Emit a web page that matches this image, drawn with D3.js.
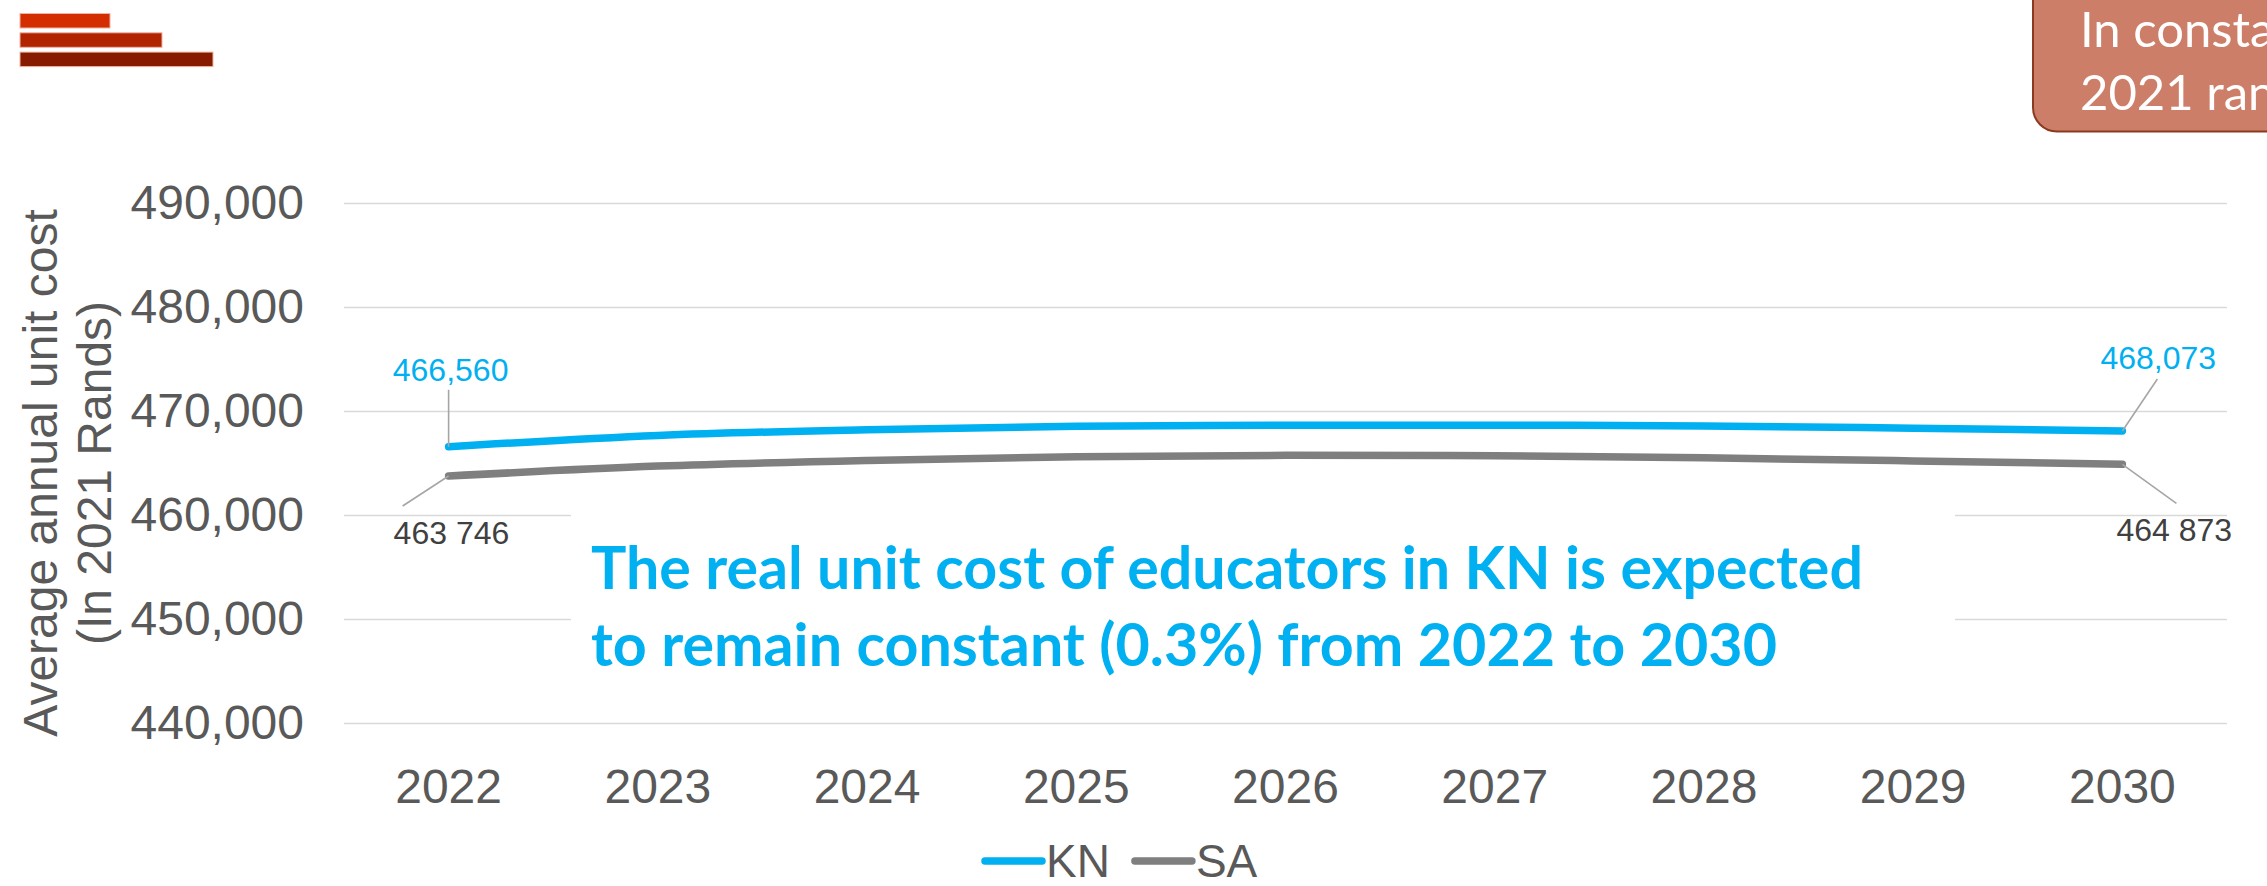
<!DOCTYPE html>
<html>
<head>
<meta charset="utf-8">
<script src="https://cdn.jsdelivr.net/npm/d3@7"></script>
<style>
  html, body { margin: 0; padding: 0; background: #ffffff; }
  svg { display: block; }
</style>
</head>
<body>
<div id="chart"></div>
<script>
// ---- data ----
const years = ["2022", "2023", "2024", "2025", "2026", "2027", "2028", "2029", "2030"];
const knValues = [466560, 467650, 468200, 468530, 468630, 468640, 468560, 468350, 468073];
const saValues = [463746, 464700, 465250, 465600, 465740, 465700, 465500, 465200, 464873];
const seriesNames = ["KN", "SA"];
const yTicks = [440000, 450000, 460000, 470000, 480000, 490000];
const yTitleLines = ["Average annual unit cost", "(In 2021 Rands)"];
const noteLines = [
  "The real unit cost of educators in KN is expected",
  "to remain constant (0.3%) from 2022 to 2030"
];
const badgeLines = ["In constant", "2021 rands"];

// ---- layout ----
const W = 2267, H = 886;
const plot = { left: 344, right: 2227, top: 203, bottom: 723 };
const colors = { KN: "#00B0F0", SA: "#7F7F7F" };
const axisText = "#595959";

const svg = d3.select("#chart").append("svg")
  .attr("width", W).attr("height", H)
  .style("font-family", "'Liberation Sans', Arial, sans-serif");

const x = d3.scaleBand().domain(years).range([plot.left, plot.right]).padding(0);
const cx = d => x(d) + x.bandwidth() / 2;
const y = d3.scaleLinear().domain([440000, 490000]).range([plot.bottom, plot.top]);

// ---- decorative bars, top left ----
const logo = svg.append("g");
[[90, "#D42E00"], [142, "#B02400"], [193, "#861B00"]].forEach(([w, c], i) => {
  logo.append("rect")
    .attr("x", 20).attr("y", 13.5 + i * 19.3)
    .attr("width", w).attr("height", 14.5)
    .attr("fill", c).attr("stroke", "#EFB3A3").attr("stroke-width", 1);
});

// ---- badge, top right (runs past the page edge) ----
const badge = svg.append("g");
badge.append("rect")
  .attr("x", 2033).attr("y", -40).attr("width", 320).attr("height", 171.5)
  .attr("rx", 24).attr("ry", 24)
  .attr("fill", "#CC7E68").attr("stroke", "#8B3A1F").attr("stroke-width", 2);
badge.selectAll("text").data(badgeLines).join("text")
  .attr("x", 2080).attr("y", (d, i) => 47 + i * 63)
  .attr("fill", "#ffffff")
  .style("font-family", "Lato, 'Open Sans', sans-serif")
  .style("font-size", "49px")
  .text(d => d);

// ---- gridlines + y axis ----
const yAxis = d3.axisLeft(y).tickValues(yTicks)
  .tickSize(-(plot.right - plot.left))
  .tickPadding(40)
  .tickFormat(d3.format(","));
const gy = svg.append("g").attr("transform", `translate(${plot.left},0)`).call(yAxis);
gy.select(".domain").remove();
gy.selectAll(".tick line").attr("stroke", "#D9D9D9").attr("stroke-width", 1.6);
gy.selectAll(".tick text")
  .attr("fill", axisText)
  .style("font-size", "48px")
  .style("font-family", "'Liberation Sans', Arial, sans-serif");

// ---- x axis ----
const xAxis = d3.axisBottom(x).tickSize(0).tickPadding(0);
const gx = svg.append("g").attr("transform", `translate(0,${plot.bottom})`).call(xAxis);
gx.select(".domain").remove();
gx.selectAll(".tick text")
  .attr("dy", null).attr("y", 80)
  .attr("fill", axisText)
  .style("font-size", "48px")
  .style("font-family", "'Liberation Sans', Arial, sans-serif");

// ---- y axis title ----
svg.selectAll("text.ytitle").data(yTitleLines).join("text")
  .attr("class", "ytitle")
  .attr("transform", (d, i) => `translate(${57 + i * 54},473) rotate(-90)`)
  .attr("text-anchor", "middle")
  .attr("fill", axisText)
  .style("font-size", "48px")
  .text(d => d);

// ---- note box (white panel over the grid) ----
svg.append("rect")
  .attr("x", 571).attr("y", 490).attr("width", 1955 - 571).attr("height", 210)
  .attr("fill", "#ffffff");

// ---- series lines ----
const series = [
  { name: seriesNames[0], values: knValues },
  { name: seriesNames[1], values: saValues }
];
const line = d3.line()
  .x((d, i) => cx(years[i]))
  .y(d => y(d))
  .curve(d3.curveCatmullRom.alpha(0.5));

svg.append("g").selectAll("path").data(series).join("path")
  .attr("d", s => line(s.values))
  .attr("fill", "none")
  .attr("stroke", s => colors[s.name])
  .attr("stroke-width", 7.5)
  .attr("stroke-linecap", "round")
  .attr("stroke-linejoin", "round");

// ---- data labels for first and last points ----
const fmtComma = d3.format(",");
const fmtSpace = d3.formatLocale({ decimal: ".", thousands: " ", grouping: [3], currency: ["", ""] }).format(",");
const last = years.length - 1;
const labels = [
  { s: 0, i: 0, text: fmtComma(knValues[0]), color: colors.KN, anchor: "middle", dx: 2, dy: -66, lx: 0, ly: -57 },
  { s: 0, i: last, text: fmtComma(knValues[last]), color: colors.KN, anchor: "start", dx: -22, dy: -62, lx: 35, ly: -52 },
  { s: 1, i: 0, text: fmtSpace(saValues[0]), color: "#404040", anchor: "start", dx: -55, dy: 68, lx: -46, ly: 30 },
  { s: 1, i: last, text: fmtSpace(saValues[last]), color: "#404040", anchor: "start", dx: -6, dy: 77, lx: 54, ly: 39 }
];
const lg = svg.append("g");
labels.forEach(l => {
  const px = cx(years[l.i]);
  const py = y(series[l.s].values[l.i]);
  lg.append("line")
    .attr("x1", px).attr("y1", py)
    .attr("x2", px + l.lx).attr("y2", py + l.ly)
    .attr("stroke", "#A6A6A6").attr("stroke-width", 1.6);
  lg.append("text")
    .attr("x", px + l.dx).attr("y", py + l.dy)
    .attr("text-anchor", l.anchor)
    .attr("fill", l.color)
    .style("font-size", "32px")
    .text(l.text);
});

// ---- note text ----
const noteWidths = [1272, 1186];
svg.selectAll("text.note").data(noteLines).join("text")
  .attr("class", "note")
  .attr("x", 591).attr("y", (d, i) => 589 + i * 77)
  .attr("fill", "#00B0F0")
  .attr("textLength", (d, i) => noteWidths[i])
  .attr("lengthAdjust", "spacingAndGlyphs")
  .style("font-family", "Lato, 'Open Sans', sans-serif")
  .style("font-weight", "700")
  .style("font-size", "60px")
  .text(d => d);

// ---- legend ----
const legend = svg.append("g");
let lx = 985;
series.forEach(s => {
  legend.append("line")
    .attr("x1", lx).attr("x2", lx + 57).attr("y1", 861).attr("y2", 861)
    .attr("stroke", colors[s.name]).attr("stroke-width", 7.5)
    .attr("stroke-linecap", "round");
  const t = legend.append("text")
    .attr("x", lx + 61).attr("y", 877)
    .attr("fill", axisText)
    .style("font-size", "46px")
    .text(s.name);
  lx += 61 + t.node().getComputedTextLength() + 25;
});
</script>
</body>
</html>
